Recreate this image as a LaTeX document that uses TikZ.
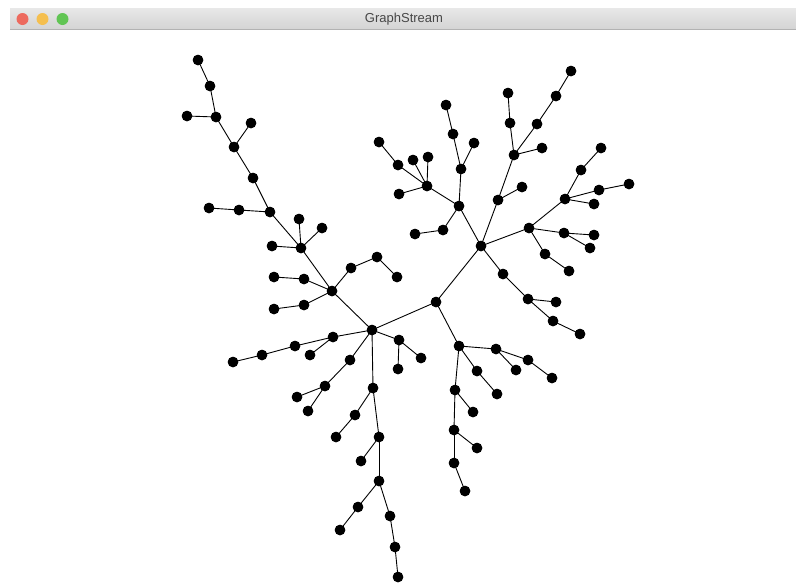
\documentclass[tikz,border=0pt]{standalone}
\usepackage{fontspec}
\setmainfont{Liberation Sans}
\begin{document}
\begin{tikzpicture}[x=1pt,y=-1pt,
  vtx/.style={circle,fill=black,inner sep=0pt,minimum size=10.5pt},
  edge/.style={draw=black,line width=0.9pt},
  light/.style={circle,inner sep=0pt,minimum size=12pt}]
\useasboundingbox (0,0) rectangle (796,582);
\fill[white] (0,0) rectangle (796,582);
% title bar
\shade[top color=white!91!black,bottom color=white!83!black] (10,8) rectangle (796,29);
\draw[white!70!black,line width=0.8pt] (10,29.4) -- (796,29.4);
\node[light,fill={rgb,255:red,237;green,106;blue,94}] (red) at (22.5,19) {};
\node[light,fill={rgb,255:red,245;green,191;blue,79}] (yel) at (42.5,19) {};
\node[light,fill={rgb,255:red,97;green,197;blue,84}] (grn) at (62.5,19) {};
\node[text=black!72,font=\fontsize{13}{15}\selectfont] (title) at (404,19) {GraphStream};
% vertices
\foreach \n/\x/\y in {
 n1/198/60, n2/210/86, n3/216/117, n4/187/116, n5/234/147, n6/251/123,
 n7/253/178, n8/270/212, n9/239/210, n10/209/208,
 b/301/248, n11/299/219, n12/322/228, n13/272/246,
 c/332/291, n14/304/279, n15/274/277, n16/351/268, n17/377/257, n18/397/277,
 n19/304/305, n20/274/309, d/372/330, k/436/302,
 n21/333/337, n22/295/346, n23/262/355, n24/233/362, n25/310/355,
 n26/399/340, n27/421/358, n28/398/369,
 n29/350/360, n30/325/386, n31/297/397, n32/308/411,
 n33/373/388, n34/355/415, n35/336/437, n36/379/437, n37/361/461, n38/379/481,
 n39/358/507, n40/340/530, n41/390/516, n42/395/547, n43/398/577,
 l/459/346, m1/496/349, m2/528/360, m3/552/378, m4/516/370, m5/477/371,
 m6/497/394, m7/455/390, m8/473/412, m9/454/430, m10/477/448, m11/454/463, m12/465/491,
 g/481/246, f/459/206, f1/461/169, f2/453/134, f3/446/105, f4/474/143,
 e/427/186, e1/398/165, e2/379/142, e3/413/160, e4/428/157, e5/399/194,
 f5/443/230, f6/415/234,
 g1/498/200, g2/522/187, h/514/155, h1/542/148, h2/537/124, h3/556/96, h4/571/71,
 h5/510/123, h6/508/93,
 j/529/228, i/565/199, i1/581/170, i2/601/148, i3/599/190, i4/629/184, i5/594/204,
 j1/564/233, j2/594/235, j3/590/248, j4/545/254, j5/569/271,
 g3/503/274, g4/528/299, g5/556/302, g6/553/321, g7/580/334}
 {\node[vtx] (\n) at (\x,\y) {};}
% edges
\begin{scope}[on background layer/.try]
\foreach \a/\b in {
 n1/n2, n2/n3, n3/n4, n3/n5, n5/n6, n5/n7, n7/n8, n8/n9, n9/n10,
 n8/b, b/n11, b/n12, b/n13, b/c, c/n14, n14/n15, c/n16, n16/n17, n17/n18,
 c/n19, n19/n20, c/d, d/k,
 d/n21, n21/n22, n22/n23, n23/n24, n21/n25,
 d/n26, n26/n27, n26/n28,
 d/n29, n29/n30, n30/n31, n30/n32,
 d/n33, n33/n34, n34/n35, n33/n36, n36/n37, n36/n38, n38/n39, n39/n40,
 n38/n41, n41/n42, n42/n43,
 k/l, l/m1, m1/m2, m2/m3, m1/m4, l/m5, m5/m6, l/m7, m7/m8, m7/m9, m9/m10,
 m9/m11, m11/m12,
 k/g, g/f, f/f1, f1/f2, f2/f3, f1/f4, f/e, e/e1, e1/e2, e/e3, e/e4, e/e5,
 f/f5, f5/f6,
 g/g1, g1/g2, g1/h, h/h1, h/h2, h2/h3, h3/h4, h/h5, h5/h6,
 g/j, j/i, i/i1, i1/i2, i/i3, i3/i4, i/i5,
 j/j1, j1/j2, j1/j3, j/j4, j4/j5,
 g/g3, g3/g4, g4/g5, g4/g6, g6/g7}
 {\draw[edge] (\a.center) -- (\b.center);}
\end{scope}
% redraw vertices on top
\foreach \n in {n1,n2,n3,n4,n5,n6,n7,n8,n9,n10,b,n11,n12,n13,c,n14,n15,n16,n17,n18,
 n19,n20,d,k,n21,n22,n23,n24,n25,n26,n27,n28,n29,n30,n31,n32,n33,n34,n35,n36,n37,
 n38,n39,n40,n41,n42,n43,l,m1,m2,m3,m4,m5,m6,m7,m8,m9,m10,m11,m12,g,f,f1,f2,f3,f4,
 e,e1,e2,e3,e4,e5,f5,f6,g1,g2,h,h1,h2,h3,h4,h5,h6,j,i,i1,i2,i3,i4,i5,j1,j2,j3,j4,j5,
 g3,g4,g5,g6,g7}
 {\fill[black] (\n.center) circle (5.25pt);}
\end{tikzpicture}
\end{document}
